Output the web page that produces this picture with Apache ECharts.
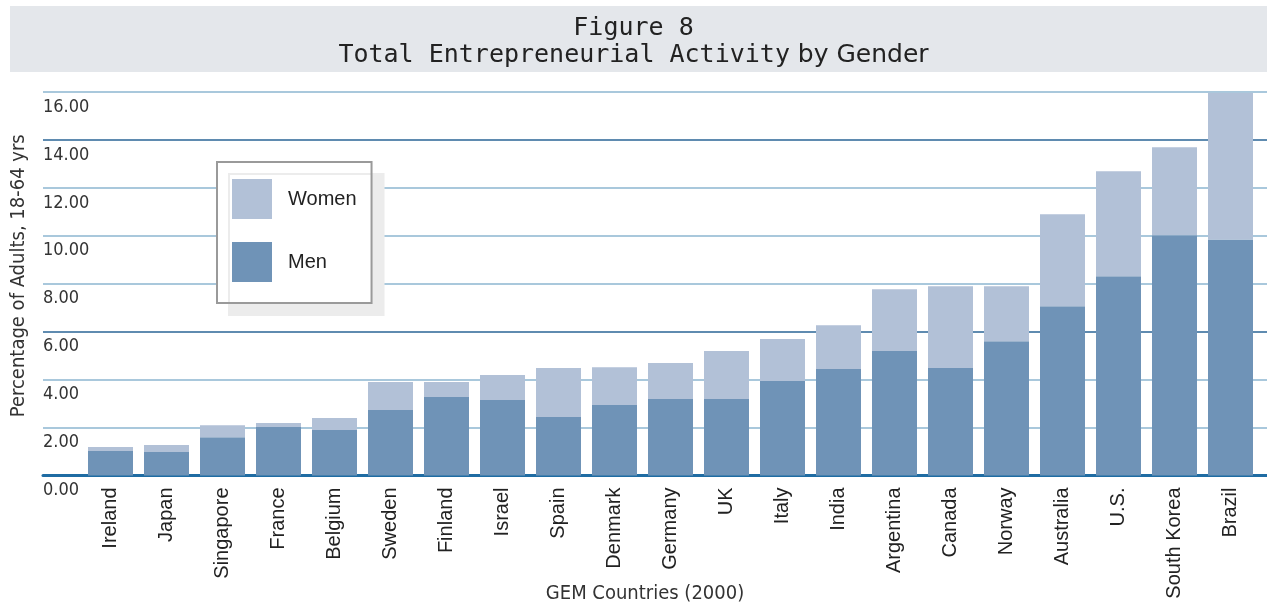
<!DOCTYPE html>
<html>
<head>
<meta charset="utf-8">
<script src="https://cdn.jsdelivr.net/npm/echarts@6/dist/echarts.min.js"></script>
<style>
html, body { margin: 0; padding: 0; background: #fff; }
#chart { width: 1267px; height: 610px; }
</style>
</head>
<body>
<div id="chart"></div>
<script>
// countries, sorted by total activity
const countries = ['Ireland', 'Japan', 'Singapore', 'France', 'Belgium', 'Sweden', 'Finland',
  'Israel', 'Spain', 'Denmark', 'Germany', 'UK', 'Italy', 'India', 'Argentina', 'Canada',
  'Norway', 'Australia', 'U.S.', 'South Korea', 'Brazil'];
const men = [1.02, 0.98, 1.60, 2.02, 1.90, 2.73, 3.27, 3.15, 2.44, 2.94, 3.19, 3.19, 3.94,
  4.44, 5.19, 4.48, 5.60, 7.06, 8.31, 10.02, 9.85];
const women = [0.17, 0.29, 0.50, 0.17, 0.50, 1.17, 0.63, 1.04, 2.04, 1.58, 1.50, 2.00, 1.75,
  1.83, 2.58, 3.42, 2.30, 3.84, 4.38, 3.67, 6.12];
const yMin = 0, yMax = 16, yStep = 2;

const narrow = "'Liberation Sans Narrow', 'DejaVu Sans Condensed', sans-serif";
const light = '#8cb6d0', dark = '#2a6496';

const chart = echarts.init(document.getElementById('chart'));
chart.setOption({
  animation: false,
  graphic: [{
    type: 'rect', z: 0,
    shape: { x: 10, y: 6, width: 1257, height: 66 },
    style: { fill: '#e4e7eb' }
  }],
  title: {
    left: 'center',
    top: 10,
    text: '{m|Figure 8}\n{m|Total Entrepreneurial Activity}{s| by Gender}',
    textStyle: {
      rich: {
        m: { fontFamily: 'DejaVu Sans Mono', fontWeight: 'normal', fontSize: 25, color: '#222', lineHeight: 27 },
        s: { fontFamily: 'DejaVu Sans', fontWeight: 'normal', fontSize: 25, color: '#222', lineHeight: 27 }
      }
    }
  },
  legend: {
    data: ['Women', 'Men'],
    orient: 'vertical',
    left: 217,
    top: 162,
    icon: 'rect',
    itemWidth: 40,
    itemHeight: 40,
    itemGap: 23,
    padding: [17, 15, 21, 15],
    backgroundColor: '#fff',
    borderColor: '#9a9a9a',
    borderWidth: 2,
    shadowColor: '#ececec',
    shadowBlur: 0,
    shadowOffsetX: 12,
    shadowOffsetY: 12,
    textStyle: { fontFamily: 'Liberation Sans, Arial, sans-serif', fontSize: 20, color: '#222', padding: [0, 0, 0, 11] }
  },
  grid: [
    { left: 43, right: 0, top: 92, bottom: 134.5 },
    { left: 82.5, right: 8.5, top: 92, bottom: 134.5 }
  ],
  xAxis: [{
    type: 'value', gridIndex: 0, min: 0, max: 1,
    axisLine: { show: true, lineStyle: { color: '#1f6ca3', width: 3 } },
    axisTick: { show: false }, axisLabel: { show: false }, splitLine: { show: false },
    name: 'GEM Countries (2000)',
    nameLocation: 'middle',
    nameGap: 108,
    nameTextStyle: { fontFamily: narrow, fontSize: 20, color: '#333', padding: [0, 20, 0, 0] }
  }, {
    type: 'category', gridIndex: 1, data: countries,
    axisLine: { show: false }, axisTick: { show: false },
    axisLabel: { rotate: 90, margin: 12, fontFamily: 'Liberation Sans, Arial, sans-serif', fontSize: 20, color: '#222', interval: 0 }
  }],
  yAxis: [{
    type: 'value', gridIndex: 0, min: yMin, max: yMax, interval: yStep,
    axisLine: { show: false }, axisTick: { show: false },
    axisLabel: {
      align: 'left', verticalAlign: 'top', margin: 0, padding: [6, 0, 0, 0],
      fontFamily: narrow, fontSize: 18, color: '#333',
      formatter: v => v.toFixed(2)
    },
    splitLine: {
      lineStyle: { color: ['#1f6ca3', light, light, dark, light, light, light, dark, light], width: 1.5 }
    },
    name: 'Percentage of Adults, 18-64 yrs',
    nameLocation: 'middle',
    nameGap: 14,
    nameTextStyle: { fontFamily: narrow, fontSize: 20, color: '#333', padding: [0, 0, 0, 16] }
  }, {
    type: 'value', gridIndex: 1, min: yMin, max: yMax, interval: yStep,
    axisLine: { show: false }, axisTick: { show: false }, axisLabel: { show: false }, splitLine: { show: false }
  }],
  series: [{
    name: 'Men', type: 'bar', stack: 'total', xAxisIndex: 1, yAxisIndex: 1,
    barWidth: 45, itemStyle: { color: '#6f93b7' }, data: men
  }, {
    name: 'Women', type: 'bar', stack: 'total', xAxisIndex: 1, yAxisIndex: 1,
    barWidth: 45, itemStyle: { color: '#b2c1d7' }, data: women
  }]
});
</script>
</body>
</html>
